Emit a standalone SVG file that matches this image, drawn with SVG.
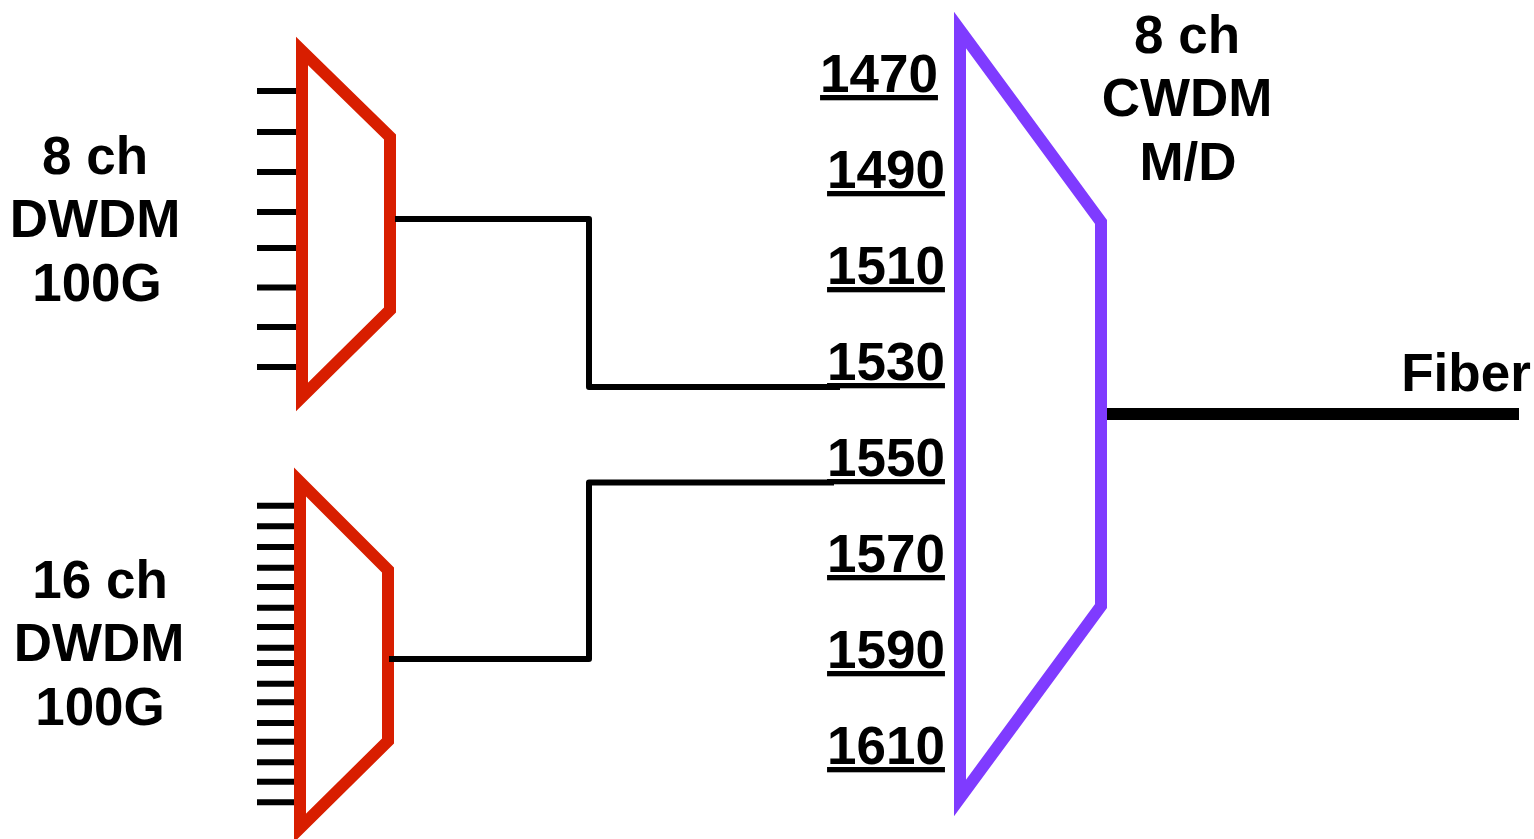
<svg xmlns="http://www.w3.org/2000/svg" width="1534" height="839" viewBox="0 0 1534 839">
<style>
text{font-family:"Liberation Sans",Arial,sans-serif;font-weight:700;font-size:53px;fill:#000;text-anchor:middle}
.u{text-decoration:underline;text-decoration-thickness:3px;text-underline-offset:4.500px;text-decoration-skip-ink:none}
.t{stroke:#000;stroke-width:6;fill:none}
.red{fill:none;stroke:#d81e00;stroke-width:12;stroke-miterlimit:10}
.pur{fill:none;stroke:#7f3bff;stroke-width:12;stroke-miterlimit:10}
</style>
<rect width="1534" height="839" fill="#fff"/>
<g id="dwdm8">
<path class="t" d="M257 91H296M257 132H296M257 172H296M257 212H296M257 248H296M257 287.500H296M257 327H296M257 367H296"/>
<path class="red" d="M302 51L390 137V310L302 397Z"/>
<text x="95" y="174">8 ch</text>
<text x="95" y="237">DWDM</text>
<text x="97" y="301">100G</text>
</g>
<g id="dwdm16">
<path class="t" d="M257 505.700H296M257 526.300H296M257 547H296M257 567.700H296M257 587H296M257 607.700H296M257 627H296M257 647.700H296M257 663H296M257 683.700H296M257 702.300H296M257 723H296M257 741.700H296M257 762.300H296M257 781.700H296M257 802.300H296"/>
<path class="red" d="M300 482L388 570V741L300 828Z"/>
<text x="100" y="598">16 ch</text>
<text x="99" y="661">DWDM</text>
<text x="100" y="725">100G</text>
</g>
<g id="cwdm">
<path class="pur" d="M960 30L1101 222V606L960 798Z"/>
<text x="1187" y="53">8 ch</text>
<text x="1187" y="116">CWDM</text>
<text x="1188" y="180">M/D</text>
</g>
<g id="wavelengths">
<text class="u" x="879" y="92">1470</text>
<text class="u" x="886" y="188">1490</text>
<text class="u" x="886" y="284">1510</text>
<text class="u" x="886" y="380">1530</text>
<text class="u" x="886" y="476">1550</text>
<text class="u" x="886" y="572">1570</text>
<text class="u" x="886" y="668">1590</text>
<text class="u" x="886" y="764">1610</text>
</g>
<g id="fiber">
<text x="1466" y="391">Fiber</text>
</g>
<g id="connectors">
<path class="t" d="M395 219H589V387H840" stroke-linejoin="round"/>
<path class="t" d="M389 659H589V482.500H834" stroke-linejoin="round"/>
<path d="M1107 414H1519" stroke="#000" stroke-width="12" fill="none"/>
</g>
</svg>
